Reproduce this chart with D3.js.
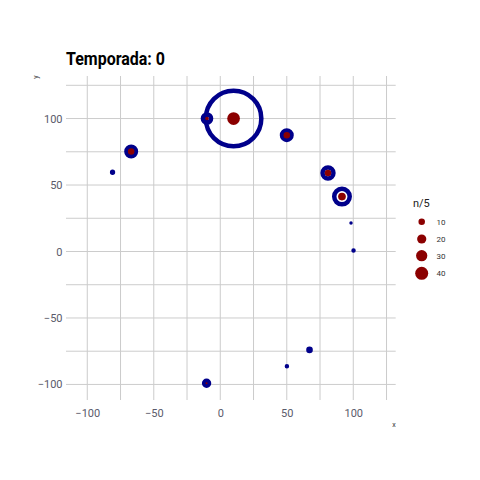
<!DOCTYPE html>
<html><head><meta charset="utf-8">
<script src="https://cdn.jsdelivr.net/npm/d3@7"></script>
<style>body{margin:0;background:#fff}svg{display:block}</style>
</head><body>
<script>
const title = "Temporada: 0";
const xs = [-10, 10, 50, -67, -81, 81, 91.5, 98.3, 100.2, 67.1, 50.1, -10.3];
const ys = [100, 100, 87.5, 75.2, 59.6, 59, 41.3, 21.4, 0.75, -74, -86.3, -99.1];
const blueVal = [40, 900, 49, 49, 7, 59, 100, 3, 5, 11, 5, 22];
const redVal = [3, 38, 10, 10, 0, 10, 14, 0, 0, 0, 0, 1];
const xTicks = [-100, -50, 0, 50, 100];
const yTicks = [-100, -50, 0, 50, 100];
const xMinor = [-75, -25, 25, 75, 125];
const yMinor = [-75, -25, 25, 75, 125];
const legendVals = [10, 20, 30, 40];
const legendTitle = "n/5";

const W = 480, H = 480;
const svg = d3.select("body").append("svg").attr("width", W).attr("height", H);
const pl = 66, pr = 395.7, pt = 76, pb = 400;
const x = d3.scaleLinear().domain([-116, 131.9]).range([pl, pr]);
const y = d3.scaleLinear().domain([-111.7, 132]).range([pb, pt]);
const blueR = d3.scaleSqrt().domain([0, 900]).range([0, 30]);
const redR = d3.scaleSqrt().domain([0, 40]).range([0, 6.5]);
const gridCol = "#cccccc";
const font = "Roboto, 'Liberation Sans Narrow', sans-serif";

const g = svg.append("g");
g.selectAll(".vx").data(xTicks.concat(xMinor).filter(v => x(v) <= pr + 0.5 && x(v) >= pl - 0.5))
  .join("line").attr("x1", d => x(d)).attr("x2", d => x(d)).attr("y1", pt).attr("y2", pb)
  .attr("stroke", gridCol).attr("stroke-width", 1);
g.selectAll(".hy").data(yTicks.concat(yMinor).filter(v => y(v) >= pt - 0.5 && y(v) <= pb + 0.5))
  .join("line").attr("y1", d => y(d)).attr("y2", d => y(d)).attr("x1", pl).attr("x2", pr)
  .attr("stroke", gridCol).attr("stroke-width", 1);

const xAxis = d3.axisBottom(x).tickValues(xTicks).tickSize(0).tickPadding(0);
const xa = svg.append("g").attr("transform", `translate(0,${pb + 7})`).call(xAxis);
xa.select(".domain").remove();
xa.selectAll("text").attr("font-family", font).attr("font-size", 11).attr("fill", "#5a5a6a").attr("dy", "0.9em");
const yAxis = d3.axisLeft(y).tickValues(yTicks).tickSize(0).tickPadding(0);
const ya = svg.append("g").attr("transform", `translate(62.5,0)`).call(yAxis);
ya.select(".domain").remove();
ya.selectAll("text").attr("font-family", font).attr("font-size", 11).attr("fill", "#5a5a6a");

svg.append("text").attr("x", 394).attr("y", 427).attr("text-anchor", "middle")
  .attr("font-family", font).attr("font-size", 7).attr("fill", "#333").text("x");
svg.append("text").attr("transform", "translate(38,77) rotate(-90)").attr("text-anchor", "middle")
  .attr("font-family", font).attr("font-size", 7).attr("fill", "#333").text("y");

svg.append("text").attr("x", 66).attr("y", 65).attr("font-family", font).attr("font-weight", "bold")
  .attr("font-size", 18).attr("fill", "#000").attr("textLength", 99).attr("lengthAdjust", "spacingAndGlyphs")
  .text(title);

const data = xs.map((v, i) => ({x: v, y: ys[i], b: blueVal[i], r: redVal[i]}));
const pg = svg.append("g");
pg.selectAll(".blue").data(data).join("circle")
  .attr("cx", d => x(d.x)).attr("cy", d => y(d.y))
  .each(function(d) {
    const Ro = blueR(d.b);
    const sw = Math.min(4.5, Ro);
    d3.select(this).attr("r", Math.max(0.01, Ro - sw / 2)).attr("stroke-width", sw);
  })
  .attr("fill", "none").attr("stroke", "#00008B");
pg.selectAll(".red").data(data.filter(d => d.r > 0)).join("circle")
  .attr("cx", d => x(d.x)).attr("cy", d => y(d.y)).attr("r", d => redR(d.r))
  .attr("fill", "#8B0000");

const lg = svg.append("g");
lg.append("text").attr("x", 413).attr("y", 207).attr("font-family", font).attr("font-size", 11)
  .attr("fill", "#222").text(legendTitle);
const ly = [221.7, 239, 255.7, 273.3];
legendVals.forEach((v, i) => {
  lg.append("circle").attr("cx", 421.7).attr("cy", ly[i]).attr("r", redR(v)).attr("fill", "#8B0000");
  lg.append("text").attr("x", 436.5).attr("y", ly[i]).attr("dy", "0.35em").attr("font-family", font)
    .attr("font-size", 8).attr("fill", "#333").text(v);
});
</script>
</body></html>
